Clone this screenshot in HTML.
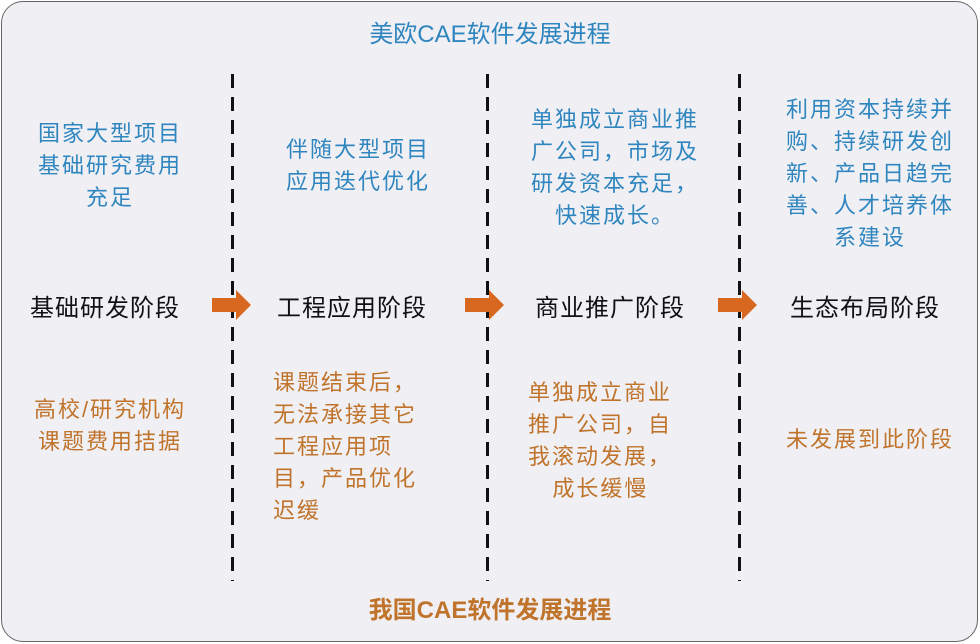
<!DOCTYPE html>
<html><head><meta charset="utf-8"><style>
body{margin:0;width:980px;height:644px;background:#fff;overflow:hidden;font-family:"Liberation Sans","Noto Sans CJK SC",sans-serif}
.box{position:absolute;left:1px;top:1px;width:975px;height:639px;border:1.5px solid #666;border-radius:22px;background:#f0eff4}
.t{position:absolute;text-align:center;white-space:nowrap}
.b{color:#2f86bf;font-size:22px;line-height:32px;letter-spacing:2px}
.o{color:#c0742b;font-size:22px;line-height:32px;letter-spacing:2px}
.s{color:#111;font-size:24px;letter-spacing:1px}
</style></head><body>
<div class="box"></div>
<div class="t" style="left:0;width:980px;top:14px;font-size:24px;color:#2f86bf">美欧CAE软件发展进程</div>
<div class="t" style="left:0;width:980px;top:590px;font-size:24px;color:#c0742b;font-weight:bold">我国CAE软件发展进程</div>
<svg style="position:absolute;left:0;top:0" width="980" height="644">
<g stroke="#111" stroke-width="3" stroke-dasharray="14 9">
<line x1="232.5" y1="74" x2="232.5" y2="581"/>
<line x1="487.5" y1="74" x2="487.5" y2="581"/>
<line x1="739.5" y1="74" x2="739.5" y2="581"/>
</g>
<g fill="#d8681f">
<polygon points="212,298 236,298 236,290 251,305 236,320 236,312 212,312"/>
<polygon points="465,298 489,298 489,290 504,305 489,320 489,312 465,312"/>
<polygon points="718,298 742,298 742,290 757,305 742,320 742,312 718,312"/>
</g></svg>
<div class="t b" style="left:10px;width:200px;top:118px">国家大型项目<br>基础研究费用<br>充足</div>
<div class="t b" style="left:258px;width:200px;top:134px">伴随大型项目<br>应用迭代优化</div>
<div class="t b" style="left:510px;width:210px;top:104px">单独成立商业推<br>广公司，市场及<br>研发资本充足，<br>快速成长。</div>
<div class="t b" style="left:760px;width:220px;top:94px">利用资本持续并<br>购、持续研发创<br>新、产品日趋完<br>善、人才培养体<br>系建设</div>
<div class="t s" style="left:5px;width:200px;top:288px">基础研发阶段</div>
<div class="t s" style="left:252px;width:200px;top:288px">工程应用阶段</div>
<div class="t s" style="left:510px;width:200px;top:288px">商业推广阶段</div>
<div class="t s" style="left:765px;width:200px;top:288px">生态布局阶段</div>
<div class="t o" style="left:10px;width:200px;top:394px">高校/研究机构<br>课题费用拮据</div>
<div class="t o" style="left:255px;width:200px;top:367px;text-align:left;margin-left:18px">课题结束后，<br>无法承接其它<br>工程应用项<br>目，产品优化<br>迟缓</div>
<div class="t o" style="left:520px;width:200px;top:377px;text-align:left;margin-left:8px">单独成立商业<br>推广公司，自<br>我滚动发展，<br>&nbsp;&nbsp;&nbsp;成长缓慢</div>
<div class="t o" style="left:760px;width:220px;top:424px">未发展到此阶段</div>
</body></html>
